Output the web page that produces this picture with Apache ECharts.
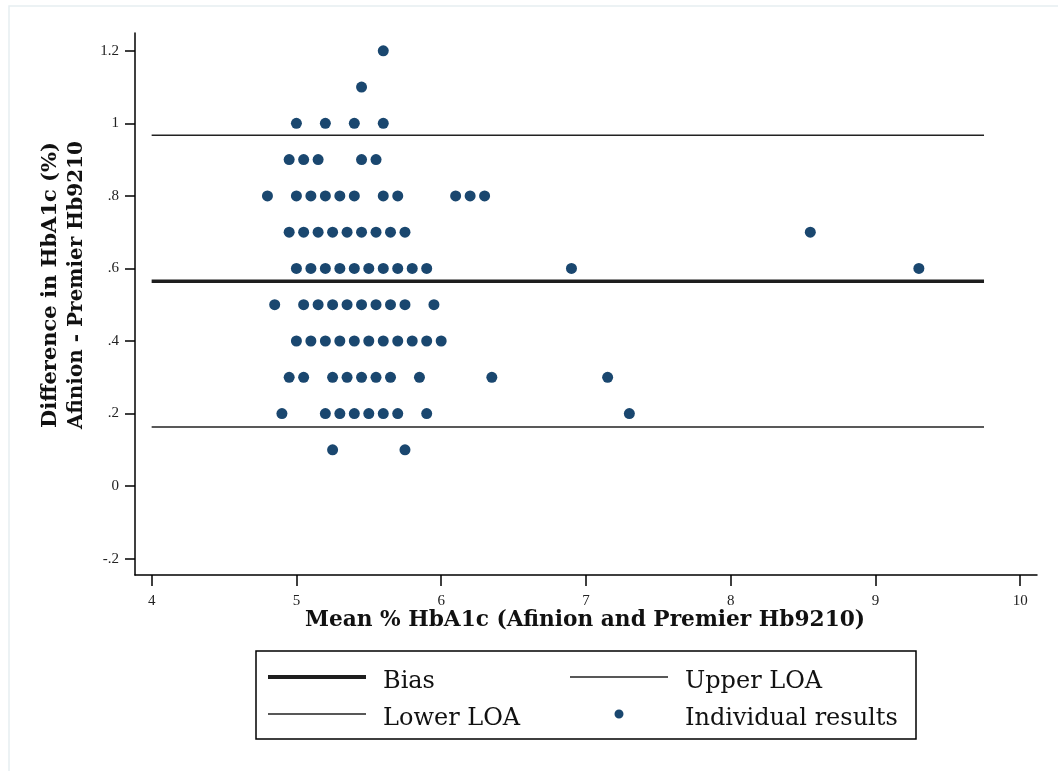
<!DOCTYPE html>
<html>
<head>
<meta charset="utf-8">
<script src="https://cdn.jsdelivr.net/npm/echarts@6/dist/echarts.min.js"></script>
<style>
html,body{margin:0;padding:0;background:#fff;}
#chart{width:1058px;height:771px;}
</style>
</head>
<body>
<div id="chart"></div>
<script>
// ---- data ----
const xTicks = [4, 5, 6, 7, 8, 9, 10];
const yTicks = [-0.2, 0, 0.2, 0.4, 0.6, 0.8, 1, 1.2];
const yTickLabels = ['-.2', '0', '.2', '.4', '.6', '.8', '1', '1.2'];

// individual results: mean values in each difference row
const diff12 = [5.6];
const diff11 = [5.45];
const diff10 = [5.0, 5.2, 5.4, 5.6];
const diff09 = [4.95, 5.05, 5.15, 5.45, 5.55];
const diff08 = [4.8, 5.0, 5.1, 5.2, 5.3, 5.4, 5.6, 5.7, 6.1, 6.2, 6.3];
const diff07 = [4.95, 5.05, 5.15, 5.25, 5.35, 5.45, 5.55, 5.65, 5.75, 8.55];
const diff06 = [5.0, 5.1, 5.2, 5.3, 5.4, 5.5, 5.6, 5.7, 5.8, 5.9, 6.9, 9.3];
const diff05 = [4.85, 5.05, 5.15, 5.25, 5.35, 5.45, 5.55, 5.65, 5.75, 5.95];
const diff04 = [5.0, 5.1, 5.2, 5.3, 5.4, 5.5, 5.6, 5.7, 5.8, 5.9, 6.0];
const diff03 = [4.95, 5.05, 5.25, 5.35, 5.45, 5.55, 5.65, 5.85, 6.35, 7.15];
const diff02 = [4.9, 5.2, 5.3, 5.4, 5.5, 5.6, 5.7, 5.9, 7.3];
const diff01 = [5.25, 5.75];

const biasValue = 0.565;
const upperLOA = 0.967;
const lowerLOA = 0.163;
const lineRange = [4, 9.75];

const rows = [
  [1.2, diff12], [1.1, diff11], [1.0, diff10], [0.9, diff09], [0.8, diff08],
  [0.7, diff07], [0.6, diff06], [0.5, diff05], [0.4, diff04], [0.3, diff03],
  [0.2, diff02], [0.1, diff01]
];
const points = [];
rows.forEach(([d, xs]) => xs.forEach(x => points.push([x, d])));

const TICKFONT = 'Liberation Serif';
const FONT = 'DejaVu Serif';
const chart = echarts.init(document.getElementById('chart'), null, {renderer: 'canvas'});

const hLine = (v) => [[lineRange[0], v], [lineRange[1], v]];
// legend icons: visible mark at top, invisible zero-area point below so the mark sits above the text centre
const thick = 'path://M0,0 L98,0 L98,4 L0,4 Z M0,14 L0.001,14 Z';
const thin = 'path://M0,0 L98,0 L98,1.5 L0,1.5 Z M0,11.5 L0.001,11.5 Z';
const dot = 'path://M44.5,0 A4.5,4.5 0 1,1 53.5,0 A4.5,4.5 0 1,1 44.5,0 Z M0,14.5 L0.001,14.5 Z M98,14.5 L97.999,14.5 Z';
const legText = {fontFamily: FONT, fontSize: 24, color: '#111', lineHeight: 26, padding: [0, 0, 0, 12]};
const legBase = {orient: 'vertical', padding: 0, itemWidth: 98, itemHeight: 20, selectedMode: false, textStyle: legText};

chart.setOption({
  animation: false,
  backgroundColor: '#ffffff',
  grid: {left: 135, right: 21, top: 33, bottom: 196, containLabel: false},
  xAxis: {
    type: 'value', min: 3.885, max: 10.116,
    splitLine: {show: false},
    axisLine: {show: true, onZero: false, lineStyle: {color: '#000', width: 1.5}},
    axisTick: {show: true, customValues: xTicks, length: 11, lineStyle: {color: '#000', width: 1.5}},
    axisLabel: {show: true, customValues: xTicks, margin: 19, fontFamily: TICKFONT, fontSize: 15, color: '#222',
      formatter: v => String(v)}
  },
  yAxis: {
    type: 'value', min: -0.245, max: 1.249,
    splitLine: {show: false},
    axisLine: {show: true, onZero: false, lineStyle: {color: '#000', width: 1.5}},
    axisTick: {show: true, customValues: yTicks, length: 10, lineStyle: {color: '#000', width: 1.5}},
    axisLabel: {show: true, customValues: yTicks, margin: 16, fontFamily: TICKFONT, fontSize: 15, color: '#222',
      formatter: v => { const i = yTicks.findIndex(t => Math.abs(t - v) < 1e-6); return i >= 0 ? yTickLabels[i] : ''; }}
  },
  legend: [
    Object.assign({}, legBase, {left: 268, top: 669,
      data: [{name: 'Bias', icon: thick, itemStyle: {color: '#1e1e1e', borderWidth: 0}}]}),
    Object.assign({}, legBase, {left: 268, top: 706,
      data: [{name: 'Lower LOA', icon: thin, itemStyle: {color: '#222', borderWidth: 0}}]}),
    Object.assign({}, legBase, {left: 570, top: 669,
      data: [{name: 'Upper LOA', icon: thin, itemStyle: {color: '#222', borderWidth: 0}}]}),
    Object.assign({}, legBase, {left: 570, top: 706,
      data: [{name: 'Individual results', icon: dot, itemStyle: {color: '#1a476f', borderWidth: 0}}]})
  ],
  graphic: [
    {type: 'rect', shape: {x: 9, y: 6, width: 1060, height: 780}, style: {fill: 'none', stroke: '#e6eef1', lineWidth: 1.5}, silent: true, z: -1},
    {type: 'rect', shape: {x: 256, y: 651, width: 660, height: 88}, style: {fill: 'none', stroke: '#000', lineWidth: 1.5}, silent: true},
    {type: 'text', x: 585, y: 620, style: {text: 'Mean % HbA1c (Afinion and Premier Hb9210)', font: 'bold 21.7px "DejaVu Serif"', fill: '#111', textAlign: 'center', textVerticalAlign: 'middle'}},
    {type: 'text', x: 51, y: 285, rotation: Math.PI / 2, style: {text: 'Difference in HbA1c (%)', font: 'bold 21px "DejaVu Serif"', fill: '#111', textAlign: 'center', textVerticalAlign: 'middle'}},
    {type: 'text', x: 77, y: 285, rotation: Math.PI / 2, style: {text: 'Afinion - Premier Hb9210', font: 'bold 20px "DejaVu Serif"', fill: '#111', textAlign: 'center', textVerticalAlign: 'middle'}}
  ],
  series: [
    {name: 'Bias', type: 'line', data: hLine(biasValue), symbol: 'none', itemStyle: {color: '#1e1e1e'}, lineStyle: {color: '#1e1e1e', width: 3.5}, z: 3},
    {name: 'Upper LOA', type: 'line', data: hLine(upperLOA), symbol: 'none', itemStyle: {color: '#222'}, lineStyle: {color: '#222', width: 1.5}, z: 3},
    {name: 'Lower LOA', type: 'line', data: hLine(lowerLOA), symbol: 'none', itemStyle: {color: '#222'}, lineStyle: {color: '#222', width: 1.5}, z: 3},
    {name: 'Individual results', type: 'scatter', data: points, symbol: 'circle', symbolSize: 11,
      itemStyle: {color: '#1a476f', opacity: 1}, z: 4}
  ]
});
</script>
</body>
</html>
